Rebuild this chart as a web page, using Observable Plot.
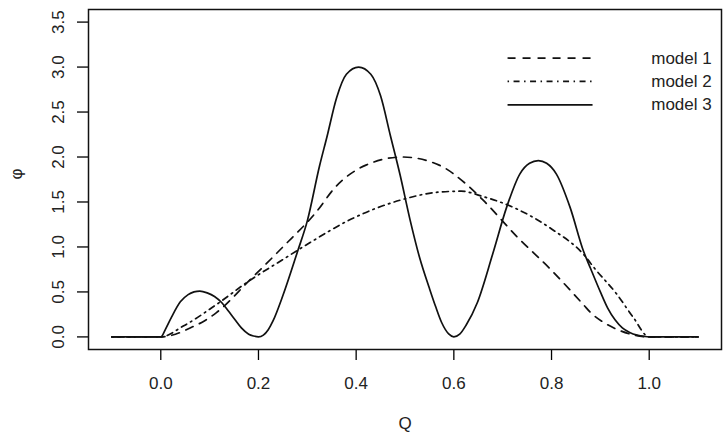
<!DOCTYPE html>
<html>
<head>
<meta charset="utf-8">
<script src="https://cdn.jsdelivr.net/npm/d3@7"></script>
<script src="https://cdn.jsdelivr.net/npm/@observablehq/plot@0.6"></script>
<style>
  html, body { margin: 0; padding: 0; background: #fff; }
</style>
</head>
<body>
<div id="chart"></div>
<script>
// ---- data ----
const model1Q   = [-0.1, 0, 0.03, 0.06, 0.09, 0.114, 0.18, 0.25, 0.32, 0.355, 0.42, 0.495, 0.57, 0.625, 0.66, 0.73, 0.80, 0.865, 0.88, 0.91, 0.94, 0.97, 1.0, 1.1];
const model1Phi = [0, 0, 0.03, 0.10, 0.18, 0.27, 0.62, 1.0, 1.40, 1.65, 1.91, 2.0, 1.91, 1.70, 1.52, 1.11, 0.74, 0.36, 0.27, 0.15, 0.07, 0.02, 0, 0];

const model2Q   = [-0.1, 0, 0.046, 0.114, 0.18, 0.25, 0.30, 0.39, 0.49, 0.57, 0.615, 0.66, 0.73, 0.80, 0.865, 0.89, 0.933, 0.967, 1.0, 1.1];
const model2Phi = [0, 0, 0.12, 0.36, 0.62, 0.86, 1.03, 1.31, 1.52, 1.61, 1.62, 1.56, 1.42, 1.20, 0.92, 0.75, 0.48, 0.22, 0, 0];

const model3Q   = [-0.1, 0, 0.01, 0.022, 0.04, 0.056, 0.068, 0.08, 0.095, 0.11, 0.125, 0.138, 0.152, 0.165, 0.18, 0.19, 0.20,
                   0.21, 0.22, 0.23, 0.25, 0.28, 0.30, 0.325, 0.34, 0.36, 0.38, 0.405, 0.43, 0.45, 0.47, 0.49, 0.51, 0.53, 0.55, 0.5625, 0.575, 0.59, 0.60,
                   0.612, 0.625, 0.648, 0.68, 0.708, 0.735, 0.755, 0.773, 0.79, 0.81, 0.838, 0.865, 0.88, 0.90, 0.915, 0.93, 0.945, 0.96, 0.975, 0.99, 1.0, 1.1];
const model3Phi = [0, 0, 0.09, 0.22, 0.39, 0.47, 0.50, 0.51, 0.49, 0.45, 0.38, 0.29, 0.19, 0.10, 0.03, 0.01, 0,
                   0.02, 0.08, 0.18, 0.46, 0.95, 1.29, 1.90, 2.22, 2.66, 2.92, 3.0, 2.92, 2.68, 2.24, 1.80, 1.31, 0.88, 0.54, 0.34, 0.16, 0.03, 0,
                   0.03, 0.13, 0.38, 0.93, 1.44, 1.81, 1.93, 1.96, 1.93, 1.81, 1.44, 0.96, 0.76, 0.50, 0.32, 0.19, 0.10, 0.05, 0.02, 0.005, 0, 0];

const modelNames = ["model 1", "model 2", "model 3"];
const xTicks = [0.0, 0.2, 0.4, 0.6, 0.8, 1.0];
const yTicks = [0.0, 0.5, 1.0, 1.5, 2.0, 2.5, 3.0, 3.5];
const xLabel = "Q";
const yLabel = "φ";

// ---- build tables ----
const toRows = (qs, ps) => qs.map((q, i) => ({Q: q, phi: ps[i]}));
const m1 = toRows(model1Q, model1Phi);
const m2 = toRows(model2Q, model2Phi);
const m3 = toRows(model3Q, model3Phi);

const dashes = ["8,7", "1.5,4.5,6,4.5", null];
const legendRows = modelNames.map((name, i) => ({name, ly: [3.1, 2.84, 2.58][i]}));

const lw = 1.7;
const chart = Plot.plot({
  width: 727,
  height: 437,
  marginLeft: 88,
  marginRight: 6,
  marginTop: 9,
  marginBottom: 88,
  style: {fontFamily: "'Liberation Sans', Arial, sans-serif", fontSize: "17px", background: "#fff", color: "#000"},
  x: {domain: [-0.148, 1.148]},
  y: {domain: [-0.14, 3.64]},
  marks: [
    Plot.axisX({ticks: xTicks, tickSize: 11, tickPadding: 16, tickFormat: d => d.toFixed(1), label: null, fontSize: 17, strokeWidth: 1.3, fill: "#222"}),
    Plot.axisY({ticks: yTicks, tickSize: 11, tickPadding: 14, tickRotate: -90, tickFormat: d => d.toFixed(1), label: null, fontSize: 17, strokeWidth: 1.3, fill: "#222"}),
    Plot.text([xLabel], {frameAnchor: "bottom", dy: 79, text: d => d, fontSize: 17, fill: "#222"}),
    Plot.text([yLabel], {frameAnchor: "left", dx: -72, rotate: -90, text: d => d, fontSize: 17, fill: "#222"}),
    Plot.line(m1, {x: "Q", y: "phi", curve: "monotone-x", stroke: "#111", strokeWidth: lw, strokeDasharray: dashes[0]}),
    Plot.line(m2, {x: "Q", y: "phi", curve: "monotone-x", stroke: "#111", strokeWidth: lw, strokeDasharray: dashes[1]}),
    Plot.line(m3, {x: "Q", y: "phi", curve: "monotone-x", stroke: "#111", strokeWidth: lw}),
    // legend (top right, inside plot)
    Plot.ruleY([legendRows[0]], {y: "ly", x1: 0.711, x2: 0.885, stroke: "#111", strokeWidth: lw, strokeDasharray: dashes[0]}),
    Plot.ruleY([legendRows[1]], {y: "ly", x1: 0.711, x2: 0.885, stroke: "#111", strokeWidth: lw, strokeDasharray: dashes[1]}),
    Plot.ruleY([legendRows[2]], {y: "ly", x1: 0.711, x2: 0.885, stroke: "#111", strokeWidth: lw}),
    Plot.text(legendRows, {x: 1.128, y: "ly", text: "name", textAnchor: "end", fontSize: 17, fill: "#222"}),
    Plot.frame({stroke: "#111", strokeWidth: 1.5})
  ]
});
document.getElementById("chart").appendChild(chart);
</script>
</body>
</html>
